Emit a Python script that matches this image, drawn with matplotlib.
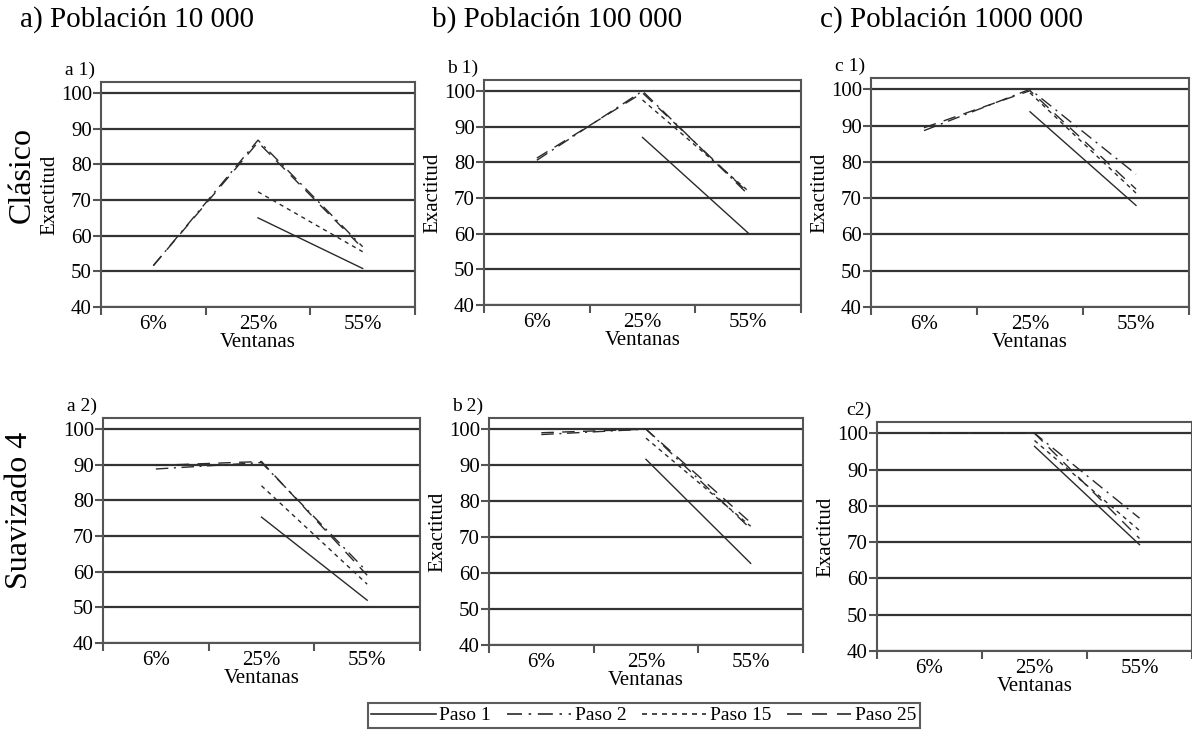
import numpy as np
import matplotlib
matplotlib.use("Agg")
import matplotlib.pyplot as plt
from matplotlib.lines import Line2D

plt.rcParams['font.family'] = ['Liberation Serif', 'DejaVu Serif']

nan = np.nan

# window sizes (categories on the x axis)
ventanas = ["6%", "25%", "55%"]
series_names = ["Paso 1", "Paso 2", "Paso 15", "Paso 25"]
yticks = [40, 50, 60, 70, 80, 90, 100]

# accuracy per panel, rows follow series_names
a1 = [[nan, 65.0, 50.8],
      [51.6, 86.8, 56.9],
      [nan, 72.3, 55.5],
      [51.6, 86.2, 56.5]]
b1 = [[nan, 87.0, 60.2],
      [80.6, 100.0, 71.0],
      [nan, 97.5, 72.0],
      [81.2, 99.5, 71.5]]
c1 = [[nan, 93.8, 68.0],
      [88.6, 100.0, 76.6],
      [nan, 99.0, 71.4],
      [89.4, 99.6, 72.5]]
a2 = [[nan, 75.3, 52.0],
      [88.8, 90.6, 60.0],
      [nan, 84.1, 56.5],
      [89.8, 90.9, 59.0]]
b2 = [[nan, 91.6, 62.7],
      [98.5, 100.0, 72.3],
      [nan, 97.5, 73.0],
      [99.0, 100.0, 74.0]]
c2 = [[nan, 96.4, 69.3],
      [100.0, 100.0, 76.6],
      [nan, 98.0, 73.2],
      [100.0, 100.0, 71.0]]

col_titles = ["a) Población 10 000", "b) Población 100 000", "c) Población 1000 000"]
row_titles = ["Clásico", "Suavizado 4"]
panel_tags = [["a 1)", "b 1)", "c 1)"], ["a 2)", "b 2)", "c2)"]]
panel_data = [[a1, b1, c1], [a2, b2, c2]]

styles = ['-', (0, (9, 4, 1.5, 4)), (0, (3, 3)), (0, (9, 6))]
line_col = '#2a2a2a'

W, H = 1192, 730
fig = plt.figure(figsize=(W / 100, H / 100), dpi=100)

# pixel boxes (left, right, top, bottom at y=40) of each panel
boxes = [[(101, 415, 82, 307), (484, 801, 80, 305), (871, 1189, 78, 307)],
         [(103, 420, 418, 643), (489, 803, 418, 645), (877, 1192, 422, 651)]]
ytop = 103.1

for r in range(2):
    for c in range(3):
        l, rr, t, b = boxes[r][c]
        ax = fig.add_axes([l / W, 1 - b / H, (rr - l) / W, (b - t) / H])
        x = np.arange(len(ventanas))
        for k, vals in enumerate(panel_data[r][c]):
            ax.plot(x, vals, ls=styles[k], color=line_col, lw=1.0, zorder=3)
        ax.set_xlim(-0.5, 2.5)
        ax.set_ylim(40, ytop)
        ax.set_yticks(yticks)
        ax.set_xticks(x)
        ax.set_xticklabels(ventanas, fontsize=15)
        ax.set_xticks([-0.5, 0.5, 1.5, 2.5], minor=True)
        ax.tick_params(axis='x', which='major', length=0, pad=6)
        ax.tick_params(axis='x', which='minor', length=6, width=1.5,
                       color='#555555', direction='out')
        ax.tick_params(axis='y', length=6, width=1.5, color='#555555',
                       labelsize=15, pad=0.5)
        ax.grid(axis='y', color='#333333', lw=1.6)
        ax.set_axisbelow(True)
        for s in ax.spines.values():
            s.set_color('#555555')
            s.set_linewidth(1.5)
        ax.set_xlabel("Ventanas", fontsize=15, labelpad=-1)
        if not (r == 1 and c == 0):
            ax.set_ylabel("Exactitud", fontsize=15, labelpad=1)
        ax.annotate(panel_tags[r][c], xy=(0, 1), xycoords='axes fraction',
                    xytext=(-4, 5), textcoords='offset points',
                    fontsize=14, ha='right', va='baseline')

# column titles
for title, xpos in zip(col_titles, [20, 432, 820]):
    fig.text(xpos / W, 1 - 27 / H, title, fontsize=21, ha='left', va='baseline')

# row titles
fig.text(22 / W, 1 - 175 / H, row_titles[0], fontsize=23, rotation=90,
         ha='center', va='center')
fig.text(20 / W, 1 - 510 / H, row_titles[1], fontsize=23, rotation=90,
         ha='center', va='center')

handles = [Line2D([], [], ls=styles[k], color=line_col, lw=1.2) for k in range(4)]
leg = fig.legend(handles, series_names, loc='upper center', ncol=4,
                 bbox_to_anchor=(644 / W, 1 - 703 / H), fontsize=14,
                 frameon=True, fancybox=False, edgecolor='#333333',
                 handlelength=3.3, handletextpad=0.2, columnspacing=0.8,
                 borderpad=0.2, borderaxespad=0)
leg.get_frame().set_linewidth(1.5)

fig.savefig("out.png", dpi=100)
